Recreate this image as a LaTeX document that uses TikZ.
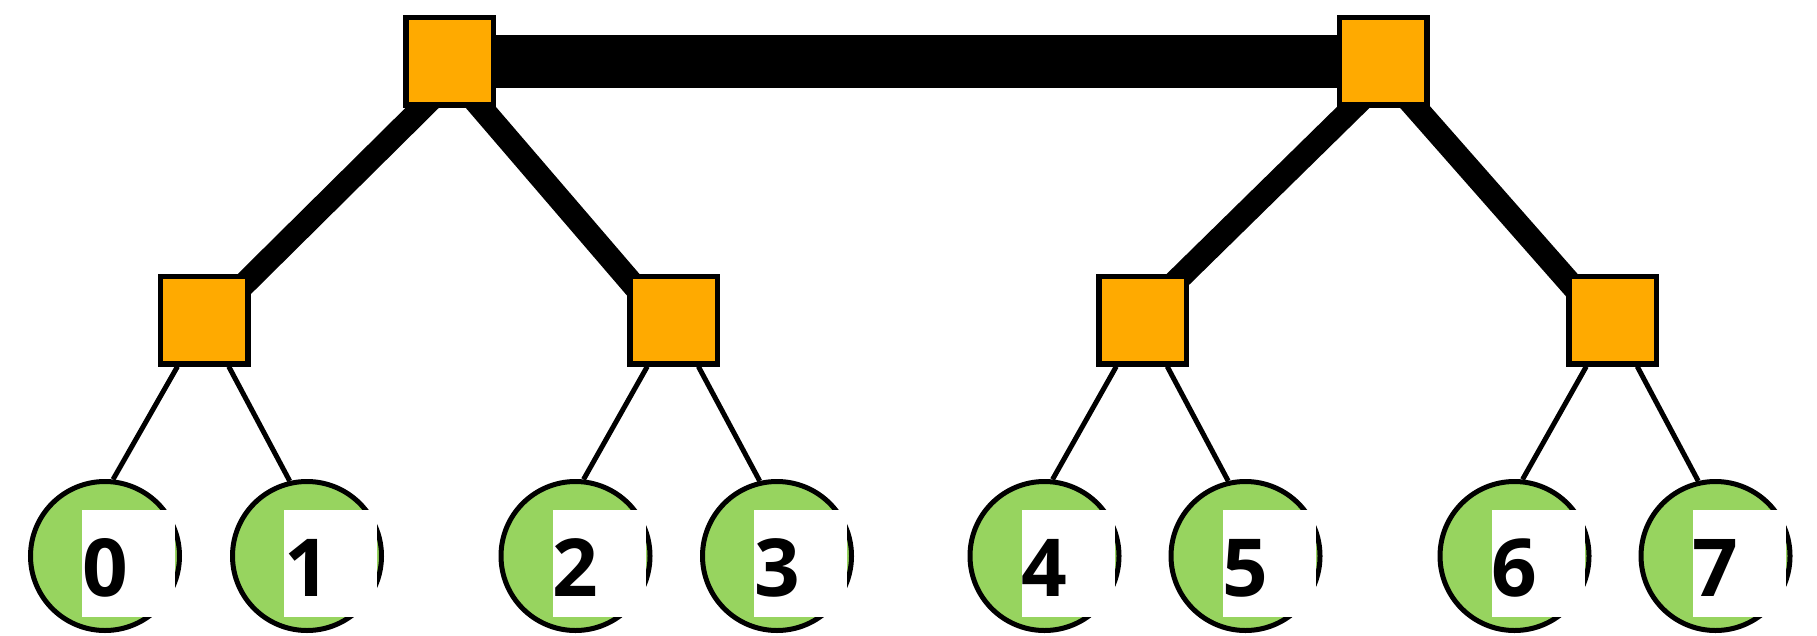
\documentclass[tikz,border=0pt]{standalone}
\usepackage{fontspec}
\setmainfont{Open Sans}
\usetikzlibrary{backgrounds}
\definecolor{switchorange}{HTML}{FFAA00}
\definecolor{hostgreen}{HTML}{97D45F}

\begin{document}
\begin{tikzpicture}[x=1pt,y=-1pt]
    \useasboundingbox (0,0) rectangle (1817,635);
    \tikzstyle{switchbox} = [rectangle, minimum size=87.5pt, inner sep=0pt, line width=5.5pt, draw=black, fill=switchorange]
    \tikzstyle{hostcircle} = [circle, minimum size=149pt, inner sep=0pt, line width=5pt, draw=black, fill=hostgreen]
    \tikzstyle{numbox} = [rectangle, anchor=north west, fill=white, inner sep=0pt, minimum width=93pt, minimum height=107pt, text width=93pt, align=left, text height=65pt, text depth=0pt, font=\fontsize{80}{96}\selectfont\bfseries]
    \node (core0) [switchbox] at (449.5,61) {};
    \node (core1) [switchbox] at (1383,61) {};
    \node (agg0) [switchbox] at (204,320) {};
    \node (agg1) [switchbox] at (673.5,320) {};
    \node (agg2) [switchbox] at (1142.5,320) {};
    \node (agg3) [switchbox] at (1612.5,320) {};
    \node (host0) [hostcircle] at (105,556) {};
    \node (host1) [hostcircle] at (307,556) {};
    \node (host2) [hostcircle] at (575.5,556) {};
    \node (host3) [hostcircle] at (777,556) {};
    \node (host4) [hostcircle] at (1044.5,556) {};
    \node (host5) [hostcircle] at (1245.5,556) {};
    \node (host6) [hostcircle] at (1514.5,556) {};
    \node (host7) [hostcircle] at (1715.5,556) {};
    \node (num0) [numbox] at ([xshift=-23pt,yshift=46pt]host0.center) {0};
    \node (num1) [numbox] at ([xshift=-23pt,yshift=46pt]host1.center) {1};
    \node (num2) [numbox] at ([xshift=-23pt,yshift=46pt]host2.center) {2};
    \node (num3) [numbox] at ([xshift=-23pt,yshift=46pt]host3.center) {3};
    \node (num4) [numbox] at ([xshift=-23pt,yshift=46pt]host4.center) {4};
    \node (num5) [numbox] at ([xshift=-23pt,yshift=46pt]host5.center) {5};
    \node (num6) [numbox] at ([xshift=-23pt,yshift=46pt]host6.center) {6};
    \node (num7) [numbox] at ([xshift=-23pt,yshift=46pt]host7.center) {7};
    \begin{pgfonlayer}{background}
    \draw [line width=53pt] (core0) -- (core1);
    \draw [line width=23.5pt] ([xshift=20pt]core0.center) -- ([xshift=4pt]agg0.center);
    \draw [line width=23.5pt] ([xshift=-8.5pt]core0.center) -- ([xshift=-10pt]agg1.center);
    \draw [line width=23.5pt] ([xshift=17.5pt]core1.center) -- ([xshift=-6pt]agg2.center);
    \draw [line width=23.5pt] ([xshift=-8.5pt]core1.center) -- ([xshift=-10pt]agg3.center);
    \draw [line width=5pt] (agg0) -- (host0.84);
    \draw [line width=5pt] (agg0) -- (host1.103);
    \draw [line width=5pt] (agg1) -- (host2.84);
    \draw [line width=5pt] (agg1) -- (host3.103);
    \draw [line width=5pt] (agg2) -- (host4.84);
    \draw [line width=5pt] (agg2) -- (host5.103);
    \draw [line width=5pt] (agg3) -- (host6.84);
    \draw [line width=5pt] (agg3) -- (host7.103);
    \end{pgfonlayer}
\end{tikzpicture}
\end{document}
